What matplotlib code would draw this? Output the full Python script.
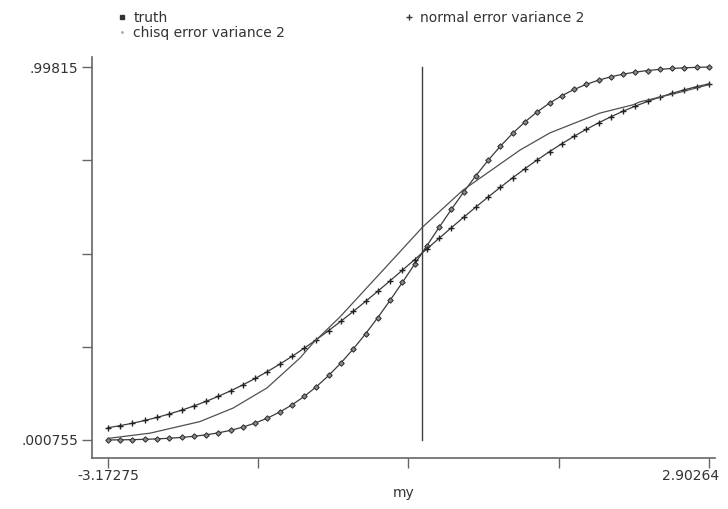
import matplotlib
matplotlib.use("Agg")
import matplotlib.pyplot as plt
from matplotlib.lines import Line2D
import matplotlib.transforms as mtransforms

plt.rcParams['font.family'] = ['DejaVu Sans']

# x grid of the marked series
my = [-3.173, -3.049, -2.925, -2.801, -2.677, -2.553, -2.429, -2.305, -2.181, -2.057,
      -1.933, -1.809, -1.685, -1.561, -1.437, -1.313, -1.189, -1.065, -0.941, -0.817,
      -0.693, -0.569, -0.445, -0.321, -0.197, -0.073, 0.051, 0.175, 0.299, 0.423,
      0.547, 0.671, 0.795, 0.919, 1.043, 1.167, 1.291, 1.415, 1.539, 1.663,
      1.787, 1.911, 2.035, 2.159, 2.283, 2.407, 2.531, 2.655, 2.779, 2.903]

truth = [0.00076, 0.00115, 0.00172, 0.00255, 0.00372, 0.00534, 0.00757, 0.01059, 0.0146, 0.01985,
         0.02662, 0.03523, 0.046, 0.05927, 0.07538, 0.09461, 0.11724, 0.14346, 0.17338, 0.207,
         0.24415, 0.28468, 0.32816, 0.37411, 0.42191, 0.4709, 0.52034, 0.56946, 0.61753, 0.66385,
         0.70778, 0.74886, 0.78667, 0.82092, 0.85151, 0.87838, 0.90163, 0.92145, 0.93808, 0.95184,
         0.96302, 0.97199, 0.97907, 0.98457, 0.98878, 0.99195, 0.99431, 0.99603, 0.99727, 0.99815]

normal_err = [0.0335, 0.0392, 0.0456, 0.0529, 0.0611, 0.0703, 0.0804, 0.0916, 0.104, 0.1175,
              0.1322, 0.1481, 0.1653, 0.1837, 0.2034, 0.2242, 0.2462, 0.2693, 0.2935, 0.3186,
              0.3445, 0.3713, 0.3986, 0.4265, 0.4547, 0.4832, 0.5117, 0.5402, 0.5685, 0.5965,
              0.6239, 0.6507, 0.6768, 0.7021, 0.7264, 0.7497, 0.772, 0.793, 0.8129, 0.8315,
              0.8489, 0.865, 0.88, 0.8937, 0.9062, 0.9177, 0.928, 0.9373, 0.9457, 0.9531]

# chisq curve (no markers)
chisq_x = [-3.173, -2.748, -2.243, -1.909, -1.565, -1.232, -1.100, -0.827, -0.423, 0.011,
           0.416, 0.992, 1.295, 1.801, 2.134, 2.205, 2.600, 2.903]
chisq_y = [0.005, 0.019, 0.050, 0.086, 0.140, 0.220, 0.260, 0.330, 0.446, 0.571,
           0.669, 0.776, 0.822, 0.875, 0.897, 0.905, 0.930, 0.951]

xticks = [-3.17275, -1.65391, -0.13505, 1.38379, 2.90264]
xticklabels = ['-3.17275', '', '', '', '2.90264']
yticks = [0.000755, 0.2501, 0.49945, 0.7488, 0.99815]
yticklabels = ['.000755', '', '', '', '.99815']
vline_x = 0.0

fig = plt.figure(figsize=(7.28, 5.09), dpi=100)
ax = fig.add_axes([0.1264, 0.1002, 0.8558, 0.7878])

ink = '#3a3a3a'
ax.plot(my, truth, color=ink, lw=0.9, marker='D', ms=2.8, mfc='#8a8a8a', mec='#2a2a2a', mew=0.7)
ax.plot(my, normal_err, color=ink, lw=0.9, marker='+', ms=4.2, mew=1.0, mec='#222222')
ax.plot(chisq_x, chisq_y, color='#505050', lw=0.9)
ax.plot([vline_x, vline_x], [yticks[0], yticks[-1]], color='#404040', lw=1.0)

ax.set_xlim(-3.334, 2.964)
ax.set_ylim(-0.0474, 1.0249)
ax.set_xticks(xticks)
ax.set_xticklabels(xticklabels)
ax.set_yticks(yticks)
ax.set_yticklabels(yticklabels)
for s in ['top', 'right']:
    ax.spines[s].set_visible(False)
for s in ['left', 'bottom']:
    ax.spines[s].set_color('#666666')
    ax.spines[s].set_linewidth(1.2)
ax.tick_params(axis='y', direction='out', length=7, width=1, color='#666666', labelsize=10,
               labelcolor='#333333', pad=3)
ax.tick_params(axis='x', direction='out', length=7, width=1, color='#666666', labelsize=10,
               labelcolor='#333333', pad=1)
ax.set_xlabel('my', fontsize=10, color='#333333', labelpad=2)

# keep last x label inside the picture, as in the reference
last = ax.get_xticklabels()[-1]
last.set_transform(last.get_transform() + mtransforms.ScaledTranslation(-18 / 100, 0, fig.dpi_scale_trans))

handles = [Line2D([], [], ls='none', marker='s', ms=3, color='#333333'),
           Line2D([], [], ls='none', marker='.', ms=2, color='#aaaaaa'),
           Line2D([], [], ls='none', marker='+', ms=4.5, mew=1, color='#333333')]
labels = ['truth', 'chisq error variance 2', 'normal error variance 2']
leg = fig.legend(handles, labels, ncol=2, loc='upper left', bbox_to_anchor=(0.147, 1.0),
                 frameon=False, fontsize=10, handlelength=0.6, handletextpad=0.5,
                 columnspacing=8.6, labelspacing=0.05, borderpad=0.3)
for t in leg.get_texts():
    t.set_color('#333333')

fig.savefig('out.png', dpi=100)
